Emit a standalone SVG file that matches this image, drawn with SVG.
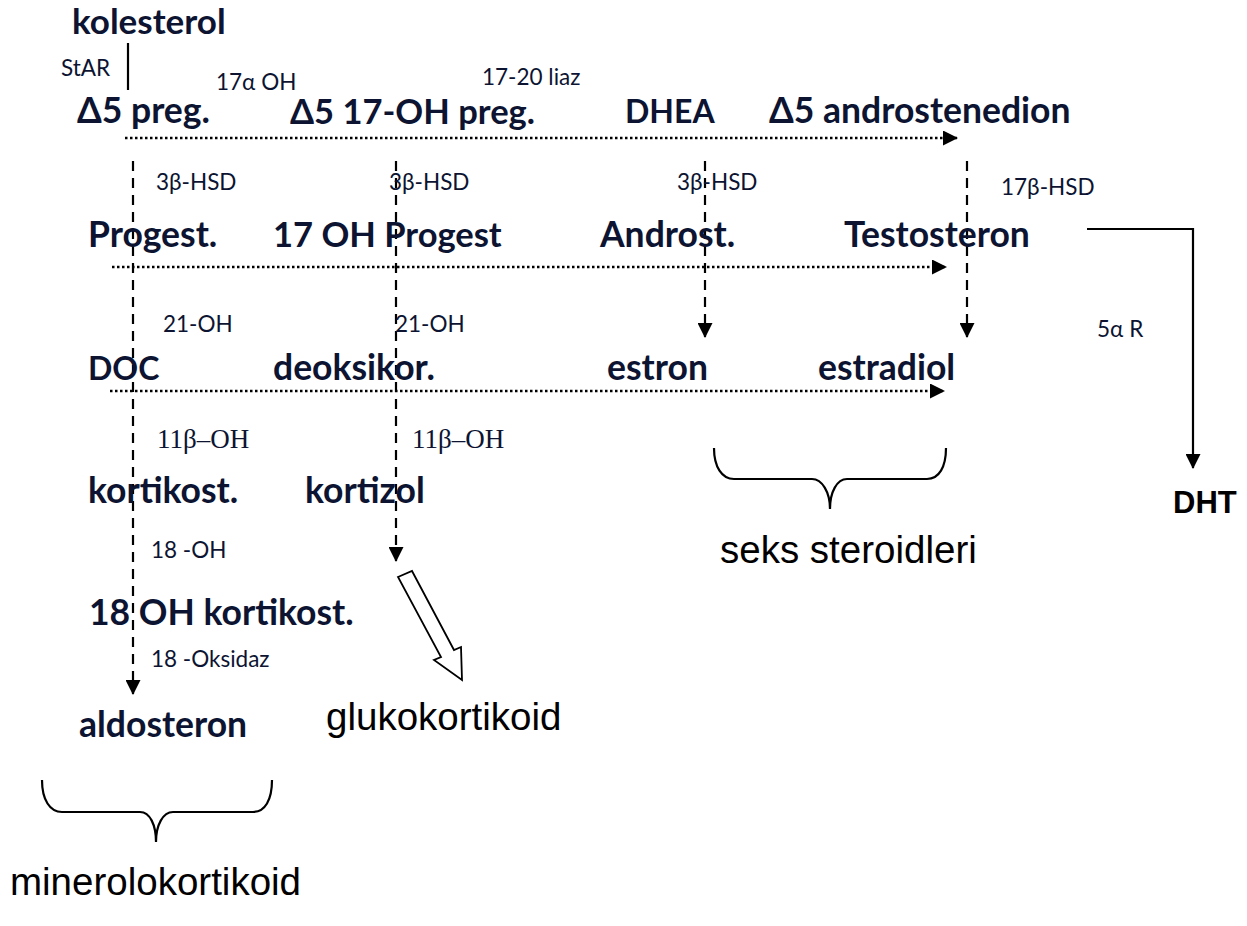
<svg xmlns="http://www.w3.org/2000/svg" width="1247" height="926" viewBox="0 0 1247 926">
<style>
.b{font-family:Lato,"Open Sans","Liberation Sans",sans-serif;font-weight:bold;font-size:35.5px;fill:#0c1432}
.s{font-family:Lato,"Open Sans","Liberation Sans",sans-serif;font-size:22.5px;fill:#0c1432}
.t{font-family:"Liberation Serif",serif;font-size:27px;fill:#0c1432}
.a{font-family:"Liberation Sans",Arial,sans-serif;font-size:38.5px;fill:#000}
.dot{stroke:#000;stroke-width:2.5;stroke-dasharray:2.5 2.5;fill:none}
.dash{stroke:#000;stroke-width:2.2;stroke-dasharray:10 7;fill:none}
.sol{stroke:#000;stroke-width:2.2;fill:none}
</style>
<defs>
<marker id="ah" markerWidth="15" markerHeight="15" refX="14" refY="7.5" orient="auto" markerUnits="userSpaceOnUse">
<path d="M0,0 L15,7.5 L0,15 Z" fill="#000"/>
</marker>
</defs>
<g id="connectors">
<line class="sol" x1="128" y1="43" x2="128" y2="90"/>
<line class="dot" x1="125" y1="138" x2="957" y2="138" marker-end="url(#ah)"/>
<line class="dot" x1="112" y1="267" x2="946" y2="267" marker-end="url(#ah)"/>
<line class="dot" x1="110" y1="391" x2="944" y2="391" marker-end="url(#ah)"/>
<line class="dash" x1="133" y1="161" x2="133" y2="694" marker-end="url(#ah)"/>
<line class="dash" x1="396" y1="161" x2="396" y2="561" marker-end="url(#ah)"/>
<line class="dash" x1="705" y1="161" x2="705" y2="337" marker-end="url(#ah)"/>
<line class="dash" x1="967" y1="161" x2="967" y2="337" marker-end="url(#ah)"/>
<polyline class="sol" points="1087,229 1193,229 1193,468" marker-end="url(#ah)"/>
<polygon points="398,577 412,571 454,650 461,647 462,680 434,660 441,657" fill="#fff" stroke="#000" stroke-width="1.8"/>
<path class="sol" d="M42,780 C42,800 50,812 62,812 L140,812 C150,812 156,825 156,842 C156,825 163,812 173,812 L253,812 C265,812 272,800 272,780"/>
<path class="sol" d="M714,448 C714,467 722,479 734,479 L812,479 C822,479 830,492 830,509 C830,492 837,479 847,479 L927,479 C939,479 946,467 946,448"/>
</g>
<g id="n-kolesterol"><text class="b" x="72" y="34" style="font-size:35px">kolesterol</text></g>
<g id="l-star"><text class="s" x="61" y="76">StAR</text></g>
<g id="l-17a"><text class="s" x="216" y="90">17α OH</text></g>
<g id="l-1720"><text class="s" x="482" y="85">17-20 liaz</text></g>
<g id="n-d5preg"><text class="b" x="77" y="123">Δ5 preg.</text></g>
<g id="n-d517"><text class="b" x="290" y="124" style="font-size:34.5px">Δ5 17-OH preg.</text></g>
<g id="n-dhea"><text class="b" x="625" y="123" style="font-size:32px">DHEA</text></g>
<g id="n-d5andro"><text class="b" x="769" y="123">Δ5 androstenedion</text></g>
<g id="l-hsd1"><text class="s" x="156" y="190">3β-HSD</text></g>
<g id="l-hsd2"><text class="s" x="389" y="190">3β-HSD</text></g>
<g id="l-hsd3"><text class="s" x="677" y="190">3β-HSD</text></g>
<g id="l-17b"><text class="s" x="1001" y="195">17β-HSD</text></g>
<g id="n-progest"><text class="b" x="88" y="247">Progest.</text></g>
<g id="n-17ohprog"><text class="b" x="273" y="247" style="font-size:34.5px">17 OH Progest</text></g>
<g id="n-androst"><text class="b" x="600" y="247">Androst.</text></g>
<g id="n-testo"><text class="b" x="844" y="247">Testosteron</text></g>
<g id="l-21a"><text class="s" x="163" y="332">21-OH</text></g>
<g id="l-21b"><text class="s" x="395" y="332">21-OH</text></g>
<g id="l-5a"><text class="s" x="1097" y="337">5α R</text></g>
<g id="n-doc"><text class="b" x="88" y="380" style="font-size:32px">DOC</text></g>
<g id="n-deoksi"><text class="b" x="273" y="380">deoksikor.</text></g>
<g id="n-estron"><text class="b" x="607" y="380">estron</text></g>
<g id="n-estradiol"><text class="b" x="818" y="380">estradiol</text></g>
<g id="l-11a"><text class="t" x="157" y="448">11β–OH</text></g>
<g id="l-11b"><text class="t" x="412" y="448">11β–OH</text></g>
<g id="n-kortikost"><text class="b" x="88" y="503">kortikost.</text></g>
<g id="n-kortizol"><text class="b" x="305" y="503">kortizol</text></g>
<g id="n-dht"><text x="1173" y="513" style="font-family:'Liberation Sans',Arial,sans-serif;font-weight:bold;font-size:31px;fill:#000">DHT</text></g>
<g id="n-seks"><text class="a" x="720" y="563">seks steroidleri</text></g>
<g id="l-18oh"><text class="s" x="151" y="558">18 -OH</text></g>
<g id="n-18oh"><text class="b" x="89" y="625">18 OH kortikost.</text></g>
<g id="l-18ox"><text class="s" x="151" y="667">18 -Oksidaz</text></g>
<g id="n-aldo"><text class="b" x="79" y="737">aldosteron</text></g>
<g id="n-gluko"><text class="a" x="326" y="730">glukokortikoid</text></g>
<g id="n-minero"><text class="a" x="10" y="895">minerolokortikoid</text></g>
</svg>
